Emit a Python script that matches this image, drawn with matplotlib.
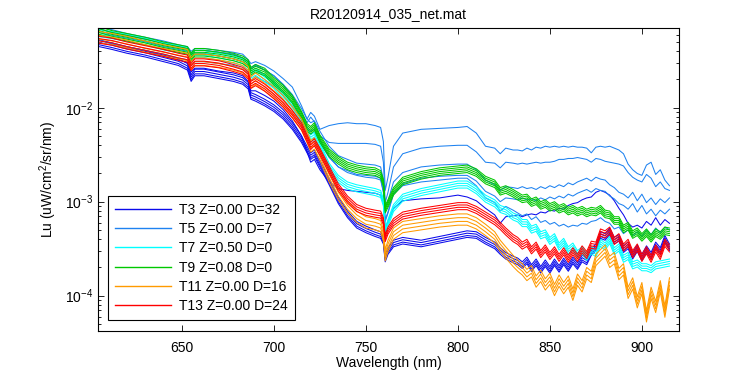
import matplotlib.pyplot as plt
import numpy as np
from matplotlib.ticker import LogLocator, LogFormatterMathtext, NullFormatter, FixedLocator

plt.rcParams["font.family"] = ["Liberation Sans", "DejaVu Sans"]
plt.rcParams["mathtext.fontset"] = "custom"
plt.rcParams["mathtext.rm"] = "Liberation Sans"
plt.rcParams["mathtext.it"] = "Liberation Sans:italic"

# wavelength grid (nm)
wl = np.array([605, 612, 620, 630, 640, 648, 653, 655, 657, 662,
               670, 678, 683, 686, 687.5, 690, 695, 700, 705, 710,
               715, 718, 720, 722, 725, 730, 735, 740, 745, 750,
               755, 758, 759.5, 760.5, 762, 765, 770, 780, 790, 800,
               805, 810, 815, 820, 823, 826, 830,
               832.5, 835, 837.5, 840, 842.5, 845, 847.5, 850, 852.5, 855,
               857.5, 860, 862.5, 865, 867.5, 870, 872.5, 875, 877.5, 880,
               882.5, 885, 887.5, 890, 892.5, 895, 897.5, 900, 902.5, 905,
               907.5, 910, 912.5, 915])

# log10(Lu)
t3_band = [-1.32, -1.35, -1.39, -1.43, -1.48, -1.52, -1.57, -1.69, -1.63, -1.63,
           -1.66, -1.69, -1.72, -1.77, -1.88, -1.90, -1.95, -2.01, -2.09, -2.20,
           -2.34, -2.45, -2.52, -2.49, -2.60, -2.79, -2.99, -3.14, -3.25, -3.30,
           -3.34, -3.36, -3.42, -3.61, -3.53, -3.45, -3.42, -3.45, -3.41, -3.37,
           -3.35, -3.36, -3.42, -3.47, -3.53, -3.58, -3.62,
           -3.64, -3.68, -3.63, -3.71, -3.65, -3.73, -3.66, -3.73, -3.65, -3.72,
           -3.64, -3.71, -3.63, -3.69, -3.61, -3.64, -3.54, -3.49, -3.36, -3.38,
           -3.32, -3.42, -3.39, -3.51, -3.47, -3.58, -3.50, -3.60, -3.51, -3.58,
           -3.47, -3.53, -3.40, -3.49]
t3_upper = [-1.28, -1.32, -1.36, -1.40, -1.45, -1.49, -1.52, -1.62, -1.58, -1.58,
            -1.61, -1.63, -1.66, -1.72, -1.82, -1.82, -1.87, -1.93, -2.02, -2.14,
            -2.30, -2.47, -2.58, -2.55, -2.66, -2.79, -2.86, -2.88, -2.89, -2.90,
            -2.91, -2.93, -3.01, -3.28, -3.21, -3.07, -2.99, -2.97, -2.96, -2.93,
            -2.95, -2.99, -3.07, -3.14, -3.23, -3.16, -3.15,
            -3.14, -3.16, -3.14, -3.13, -3.14, -3.11, -3.12, -3.09, -3.10, -3.07,
            -3.08, -3.04, -3.02, -3.01, -2.98, -2.96, -2.95, -2.90, -2.88, -2.90,
            -2.93, -2.99, -3.07, -3.14, -3.23, -3.27, -3.25, -3.28, -3.21, -3.25,
            -3.17, -3.25, -3.19, -3.23]
t5_a = [-1.14, -1.17, -1.21, -1.25, -1.29, -1.33, -1.35, -1.40, -1.37, -1.37,
        -1.39, -1.41, -1.43, -1.49, -1.53, -1.51, -1.55, -1.61, -1.69, -1.78,
        -1.98, -2.12, -2.05, -2.09, -2.23, -2.19, -2.17, -2.16, -2.17, -2.17,
        -2.19, -2.21, -2.36, -2.88, -2.74, -2.41, -2.27, -2.23, -2.22, -2.21,
        -2.20, -2.27, -2.41, -2.43, -2.49, -2.43, -2.45,
        -2.45, -2.46, -2.43, -2.45, -2.42, -2.43, -2.41, -2.42, -2.41, -2.42,
        -2.41, -2.42, -2.41, -2.42, -2.42, -2.43, -2.48, -2.42, -2.41, -2.42,
        -2.41, -2.43, -2.45, -2.49, -2.60, -2.66, -2.70, -2.72, -2.61, -2.58,
        -2.71, -2.66, -2.77, -2.83]
t5_b = [-1.16, -1.20, -1.23, -1.27, -1.31, -1.35, -1.37, -1.42, -1.39, -1.39,
        -1.41, -1.43, -1.47, -1.51, -1.58, -1.54, -1.60, -1.66, -1.76, -1.89,
        -2.05, -2.16, -2.10, -2.15, -2.30, -2.37, -2.38, -2.38, -2.38, -2.38,
        -2.39, -2.41, -2.58, -3.01, -2.90, -2.63, -2.49, -2.43, -2.41, -2.40,
        -2.40, -2.47, -2.58, -2.59, -2.64, -2.58, -2.59,
        -2.60, -2.59, -2.60, -2.59, -2.58, -2.59, -2.58, -2.58, -2.57, -2.55,
        -2.55, -2.54, -2.54, -2.53, -2.54, -2.55, -2.58, -2.54, -2.55, -2.57,
        -2.58, -2.59, -2.60, -2.62, -2.69, -2.74, -2.77, -2.79, -2.71, -2.75,
        -2.84, -2.79, -2.86, -2.88]
t5_c = [-1.16, -1.20, -1.23, -1.27, -1.31, -1.35, -1.37, -1.43, -1.39, -1.39,
        -1.41, -1.43, -1.47, -1.51, -1.59, -1.55, -1.60, -1.66, -1.75, -1.86,
        -2.01, -2.12, -2.16, -2.14, -2.25, -2.41, -2.51, -2.55, -2.59, -2.60,
        -2.61, -2.63, -2.77, -3.07, -2.99, -2.79, -2.69, -2.63, -2.61, -2.60,
        -2.60, -2.66, -2.77, -2.82, -2.88, -2.84, -2.85,
        -2.86, -2.84, -2.86, -2.85, -2.87, -2.84, -2.86, -2.83, -2.85, -2.82,
        -2.84, -2.80, -2.82, -2.79, -2.77, -2.75, -2.78, -2.74, -2.76, -2.77,
        -2.82, -2.85, -2.90, -2.92, -2.96, -2.90, -2.99, -2.92, -3.01, -2.96,
        -3.03, -2.97, -3.01, -2.96]
t5_e = [-1.20, -1.23, -1.26, -1.30, -1.35, -1.38, -1.40, -1.47, -1.42, -1.42,
        -1.45, -1.48, -1.51, -1.55, -1.63, -1.60, -1.65, -1.73, -1.83, -1.95,
        -2.10, -2.21, -2.25, -2.23, -2.34, -2.52, -2.63, -2.69, -2.72, -2.74,
        -2.75, -2.77, -2.90, -3.21, -3.12, -2.92, -2.83, -2.79, -2.77, -2.75,
        -2.75, -2.83, -2.96, -3.01, -3.10, -3.05, -3.09,
        -3.12, -3.15, -3.13, -3.19, -3.16, -3.22, -3.20, -3.24, -3.22, -3.26,
        -3.24, -3.27, -3.25, -3.26, -3.23, -3.24, -3.21, -3.20, -3.17, -3.21,
        -3.23, -3.29, -3.27, -3.34, -3.30, -3.36, -3.32, -3.37, -3.30, -3.35,
        -3.28, -3.33, -3.27, -3.30]
t7 = [-1.21, -1.23, -1.26, -1.30, -1.35, -1.38, -1.40, -1.48, -1.43, -1.43,
      -1.46, -1.49, -1.52, -1.57, -1.65, -1.62, -1.69, -1.76, -1.87, -1.99,
      -2.14, -2.27, -2.33, -2.30, -2.41, -2.63, -2.76, -2.83, -2.86, -2.88,
      -2.90, -2.92, -3.01, -3.32, -3.23, -3.07, -2.96, -2.90, -2.86, -2.82,
      -2.82, -2.88, -2.97, -3.02, -3.08, -3.10, -3.16,
      -3.18, -3.23, -3.23, -3.30, -3.28, -3.36, -3.34, -3.42, -3.38, -3.48,
      -3.43, -3.52, -3.48, -3.56, -3.52, -3.59, -3.52, -3.55, -3.44, -3.48,
      -3.41, -3.53, -3.49, -3.61, -3.58, -3.68, -3.66, -3.70, -3.70, -3.72,
      -3.68, -3.67, -3.66, -3.65]
t9 = [-1.17, -1.21, -1.24, -1.28, -1.33, -1.36, -1.38, -1.45, -1.40, -1.40,
      -1.42, -1.45, -1.48, -1.52, -1.60, -1.57, -1.61, -1.71, -1.79, -1.90,
      -2.07, -2.20, -2.23, -2.19, -2.32, -2.47, -2.55, -2.61, -2.64, -2.66,
      -2.67, -2.70, -2.79, -3.07, -3.01, -2.88, -2.77, -2.71, -2.67, -2.65,
      -2.64, -2.68, -2.76, -2.80, -2.88, -2.86, -2.90,
      -2.93, -2.96, -2.95, -3.00, -2.98, -3.03, -3.01, -3.05, -3.03, -3.07,
      -3.05, -3.09, -3.07, -3.10, -3.08, -3.11, -3.09, -3.10, -3.07, -3.12,
      -3.13, -3.19, -3.19, -3.28, -3.25, -3.34, -3.31, -3.37, -3.32, -3.38,
      -3.32, -3.35, -3.30, -3.31]
t11 = [-1.23, -1.25, -1.28, -1.33, -1.37, -1.40, -1.42, -1.51, -1.47, -1.47,
       -1.49, -1.52, -1.55, -1.60, -1.71, -1.67, -1.74, -1.82, -1.91, -2.03,
       -2.16, -2.29, -2.39, -2.36, -2.48, -2.71, -2.90, -3.04, -3.14, -3.20,
       -3.22, -3.24, -3.34, -3.55, -3.45, -3.32, -3.25, -3.22, -3.19, -3.17,
       -3.17, -3.21, -3.28, -3.36, -3.45, -3.52, -3.61,
       -3.66, -3.70, -3.76, -3.72, -3.83, -3.77, -3.86, -3.80, -3.92, -3.82,
       -3.90, -3.83, -3.97, -3.81, -3.88, -3.74, -3.78, -3.60, -3.55, -3.50,
       -3.62, -3.58, -3.75, -3.70, -3.95, -3.85, -4.05, -3.90, -4.20, -3.95,
       -4.10, -3.88, -4.15, -3.85]
t13 = [-1.28, -1.30, -1.34, -1.38, -1.42, -1.46, -1.48, -1.57, -1.52, -1.52,
       -1.54, -1.58, -1.61, -1.66, -1.76, -1.73, -1.79, -1.87, -1.96, -2.07,
       -2.20, -2.33, -2.41, -2.37, -2.47, -2.66, -2.85, -2.98, -3.07, -3.11,
       -3.13, -3.14, -3.21, -3.39, -3.31, -3.22, -3.15, -3.11, -3.08, -3.05,
       -3.05, -3.09, -3.15, -3.21, -3.26, -3.32, -3.39,
       -3.42, -3.47, -3.44, -3.52, -3.47, -3.56, -3.50, -3.58, -3.52, -3.60,
       -3.53, -3.61, -3.53, -3.60, -3.51, -3.57, -3.46, -3.47, -3.33, -3.35,
       -3.31, -3.42, -3.38, -3.49, -3.44, -3.56, -3.49, -3.60, -3.52, -3.61,
       -3.50, -3.58, -3.44, -3.50]

# spread of the individual casts around each curve (log10 units)
t3_offsets = [0.04, 0.015, -0.01, -0.03]
t5c_offsets = [0.0, -0.12]
t7_offsets = [0.04, 0.015, -0.01, -0.035]
t9_offsets = [0.03, 0.01, -0.01, -0.03, -0.05]
t11_offsets = [0.04, 0.0, -0.04, -0.08]
t13_offsets = [0.04, 0.015, -0.01, -0.035]

groups = [
    ("T3 Z=0.00 D=32", "#0a0aeb", [(t3_band, t3_offsets), (t3_upper, [0.0])]),
    ("T5 Z=0.00 D=7", "#1e82f0", [(t5_a, [0.0]), (t5_b, [0.0]), (t5_c, t5c_offsets), (t5_e, [0.0])]),
    ("T7 Z=0.50 D=0", "#00ffff", [(t7, t7_offsets)]),
    ("T9 Z=0.08 D=0", "#00c800", [(t9, t9_offsets)]),
    ("T11 Z=0.00 D=16", "#ff9a00", [(t11, t11_offsets)]),
    ("T13 Z=0.00 D=24", "#ff0000", [(t13, t13_offsets)]),
]

fig = plt.figure(figsize=(7.5, 3.75), dpi=100)
ax = fig.add_axes([0.1307, 0.1173, 0.7747, 0.808])

for name, color, curves in groups:
    first = True
    for curve, offsets in curves:
        for off in offsets:
            ax.plot(wl, 10 ** (np.array(curve) + off), color=color, linewidth=0.75,
                    label=name if first else None)
            first = False

ax.set_yscale("log")
ax.set_xlim(604.4, 920.2)
ax.set_ylim(10 ** -4.376, 10 ** -1.152)
ax.xaxis.set_major_locator(FixedLocator([650, 700, 750, 800, 850, 900]))
ax.yaxis.set_major_locator(LogLocator(base=10, numticks=10))
ax.yaxis.set_major_formatter(LogFormatterMathtext())
ax.yaxis.set_minor_locator(LogLocator(base=10, subs=np.arange(2, 10), numticks=20))
ax.yaxis.set_minor_formatter(NullFormatter())
ax.tick_params(which="both", direction="in", top=True, right=True, labelsize=10, width=0.6)
ax.tick_params(which="major", length=4.5)
ax.tick_params(which="minor", length=2.5)
ax.tick_params(axis="x", pad=7)
for s in ax.spines.values():
    s.set_linewidth(0.8)

ax.set_xlabel("Wavelength (nm)", fontsize=10, labelpad=1)
ax.set_ylabel("Lu (uW/cm$^2$/sr/nm)", fontsize=10, labelpad=4)
ax.set_title("R20120914_035_net.mat", fontsize=10, pad=7)

leg = ax.legend(loc="lower left", bbox_to_anchor=(0.0172, 0.036), borderaxespad=0,
                fontsize=10, handlelength=4.0, handletextpad=0.6, labelspacing=0.38,
                borderpad=0.5, fancybox=False, framealpha=1, edgecolor="black")
leg.get_frame().set_linewidth(0.8)
for h in leg.get_lines():
    h.set_linewidth(1.0)

fig.savefig("out.png", dpi=100)
